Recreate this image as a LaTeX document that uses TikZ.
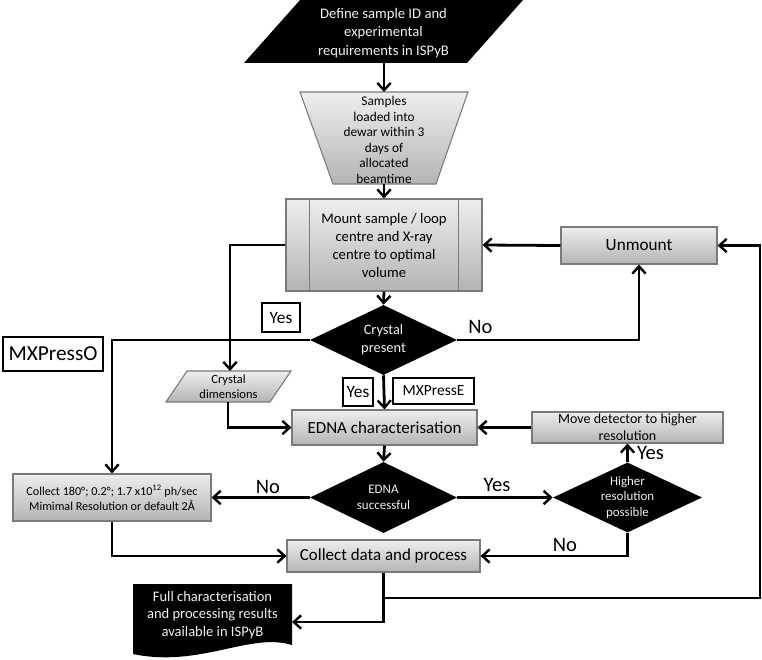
\documentclass[tikz,border=0pt]{standalone}
\usepackage{fontspec}
\setmainfont{Carlito}
\usetikzlibrary{arrows.meta,shapes.geometric}
\definecolor{gtop}{HTML}{EEEEEE}
\definecolor{gbot}{HTML}{B4B4B4}
\definecolor{gborder}{HTML}{7A7A7A}
\definecolor{wtext}{HTML}{F0F0F0}
\newcommand{\fsz}[2]{\fontsize{#1}{#2}\selectfont}
\begin{document}
\begin{tikzpicture}[x=0.75pt,y=-0.75pt,
 gbox/.style={rectangle, draw=gborder, line width=0.8pt, top color=gtop, bottom color=gbot, inner sep=0pt, align=center},
 gshape/.style={draw=gborder, line width=0.8pt, top color=gtop, bottom color=gbot},
 dia/.style={diamond, fill=black, inner sep=0pt},
 tagbox/.style={rectangle, draw=black, line width=1.1pt, fill=white, inner sep=0pt, align=center},
 arr/.style={line width=2.1pt, -{Straight Barb[length=5.5pt,width=10pt,line width=1.8pt]}},
 wt/.style={text=wtext, align=center, inner sep=0pt},
 txt/.style={align=center, inner sep=0pt},
 elabel/.style={inner sep=0pt, font=\fsz{15.4}{18}}
]
\useasboundingbox (0,0) rectangle (762,659);

% top parallelogram
\fill (300,0) -- (523,0) -- (467,63) -- (244,63) -- cycle;
\node[wt, font=\fsz{11}{14}] (define) at (383.5,33) {Define sample ID and\\experimental\\requirements in ISPyB};
\coordinate (define-b) at (384,63);

% samples trapezoid
\path[gshape] (300,92) -- (468,92) -- (436,184) -- (333,184) -- cycle;
\node[txt, font=\fsz{10}{11.7}] (samples) at (384,140) {Samples\\loaded into\\dewar within 3\\days of\\allocated\\beamtime};
\coordinate (samples-t) at (384,92);
\coordinate (samples-b) at (384,184);

% mount
\node[gbox, minimum width=147pt, minimum height=69pt, font=\fsz{11}{13.5}] (mount) at (384,245) {Mount sample / loop\\centre and X-ray\\centre to optimal\\volume};
\draw[gborder, line width=0.8pt] ([xshift=18pt]mount.north west) -- ([xshift=18pt]mount.south west);
\draw[gborder, line width=0.8pt] ([xshift=-18pt]mount.north east) -- ([xshift=-18pt]mount.south east);

% unmount
\node[gbox, minimum width=117pt, minimum height=27.75pt, font=\fsz{12.9}{15}] (unmount) at (639,245.5) {Unmount};

% crystal present
\node[dia, minimum width=110.25pt, minimum height=52.5pt] (crystal) at (383.5,340) {};
\node[wt, font=\fsz{10.8}{13.5}] (crystal-t) at (crystal) {Crystal\\present};

% crystal dimensions
\path[gshape] (187,371) -- (291,371) -- (270,402) -- (166,402) -- cycle;
\node[txt, font=\fsz{9.4}{11.5}] (cdims) at (228.5,386.5) {Crystal\\dimensions};
\coordinate (cdims-t) at (230,371);
\coordinate (cdims-b) at (228,402);

% EDNA characterisation
\node[gbox, minimum width=138.75pt, minimum height=26.25pt, font=\fsz{12.7}{15}] (edna) at (384.5,427.5) {EDNA characterisation};

% move detector
\node[gbox, minimum width=143.25pt, minimum height=23.25pt, font=\fsz{10.5}{12.75}] (move) at (627.5,427.5) {Move detector to higher\\resolution};

% EDNA successful
\node[dia, minimum width=110.25pt, minimum height=53.25pt] (esucc) at (383.5,497.5) {};
\node[wt, font=\fsz{9.75}{12}] (esucc-t) at (esucc) {EDNA\\successful};

% higher resolution
\node[dia, minimum width=111.75pt, minimum height=52.5pt] (hres) at (627.5,497.5) {};
\node[wt, font=\fsz{9.7}{11.6}] (hres-t) at (hres) {Higher\\resolution\\possible};

% collect 180
\node[gbox, minimum width=148.5pt, minimum height=35.25pt, font=\fsz{9.1}{11.3}] (c180) at (112,497.5) {Collect 180°; 0.2°; 1.7 x10\textsuperscript{12} ph/sec\\Mimimal Resolution or default 2Å};

% collect data
\node[gbox, minimum width=144.75pt, minimum height=24pt, font=\fsz{12.7}{15}] (cdata) at (383.5,556) {Collect data and process};

% full characterisation document
\fill (133,584) -- (292,584) -- (292,645) .. controls (250,632) and (200,668) .. (133,654) -- cycle;
\node[wt, font=\fsz{10.9}{13}] (full) at (212.5,615) {Full characterisation\\and processing results\\available in ISPyB};
\coordinate (full-e) at (292,622);

% tag boxes
\node[tagbox, minimum width=28.5pt, minimum height=21.75pt, font=\fsz{13}{15}] (yes1) at (281,317.5) {Yes};
\node[tagbox, minimum width=75pt, minimum height=25.5pt, font=\fsz{16}{18}] (mxo) at (53,354) {MXPressO};
\node[tagbox, minimum width=22.5pt, minimum height=21pt, font=\fsz{13}{15}] (yes2) at (358,392) {Yes};
\node[tagbox, minimum width=60.75pt, minimum height=19.5pt, font=\fsz{11.6}{14}] (mxe) at (433.5,391) {MXPressE};

% connectors
\draw[arr] (define-b) -- (samples-t);
\draw[arr] (samples-b) -- (mount.north);
\draw[arr] (mount.south) -- (crystal.north);
\draw[arr] (unmount.west) -- (mount.east);
\draw[arr] (crystal.east) -| (unmount.south);
\draw[arr] (mount.west) -| (cdims-t);
\draw[arr] (crystal.west) -| (c180.north);
\draw[arr] (cdims-b) |- (edna.west);
\draw[arr] (crystal.south) -- (edna.north);
\draw[arr] (move.west) -- (edna.east);
\draw[arr] (edna.south) -- (esucc.north);
\draw[arr] (esucc.west) -- (c180.east);
\draw[arr] (esucc.east) -- (hres.west);
\draw[arr] (hres.north) -- (move.south);
\draw[arr] (hres.south) |- (cdata.east);
\draw[arr] (c180.south) |- (cdata.west);
\draw[arr] (cdata.south) |- (full-e);
\coordinate (jn) at (383.5,598);
\coordinate (rt) at (760,598);
\draw[arr] (jn) -- (rt) |- (unmount.east);

% edge labels
\node[elabel] (l-no1) at (480.5,327) {No};
\node[elabel] (l-no2) at (268,486.5) {No};
\node[elabel] (l-yes1) at (497,485) {Yes};
\node[elabel] (l-yes2) at (650.5,453) {Yes};
\node[elabel] (l-no3) at (565,545) {No};
\end{tikzpicture}
\end{document}
